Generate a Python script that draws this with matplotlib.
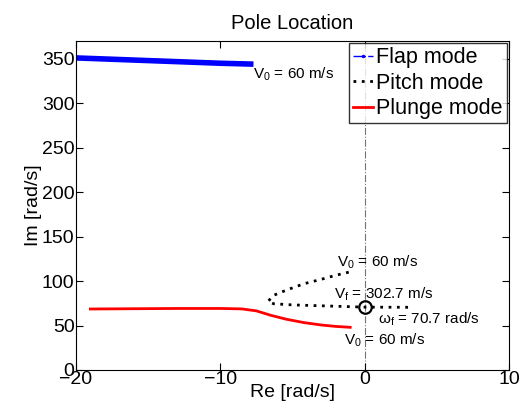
import matplotlib
matplotlib.use('Agg')
import matplotlib.pyplot as plt
from matplotlib.lines import Line2D

plt.rcParams['font.family'] = ['Liberation Sans', 'DejaVu Sans']
plt.rcParams['mathtext.fontset'] = 'custom'
plt.rcParams['mathtext.rm'] = 'Liberation Sans'
plt.rcParams['mathtext.it'] = 'Liberation Sans'

# Flap mode root locus
flap_re = [-20.0, -18.0, -16.0, -14.0, -12.0, -10.0, -7.7]
flap_im = [351.0, 349.8, 348.6, 347.4, 346.2, 345.0, 344.0]

# Pitch mode root locus
pitch_re = [-1.1, -2.0, -3.0, -4.2, -5.4, -6.3, -6.7, -6.3, -5.0, -3.0, -1.0, 0.0, 1.5, 3.1]
pitch_im = [110.0, 106.5, 102.0, 97.0, 90.0, 84.0, 77.0, 74.5, 73.2, 72.2, 71.2, 70.7, 70.6, 70.5]

# Plunge mode root locus
plunge_re = [-19.0, -16.0, -13.0, -10.0, -8.5, -7.5, -6.5, -5.4, -4.2, -3.0, -2.0, -1.0]
plunge_im = [68.6, 68.9, 69.2, 69.2, 68.7, 66.5, 61.5, 57.0, 53.3, 50.6, 49.0, 48.0]

# Flutter point
flutter_re = 0.0
flutter_im = 70.7

fig = plt.figure(figsize=(5.31, 4.16), dpi=100)
ax = fig.add_axes([0.143, 0.1106, 0.8155, 0.7908])

ax.axvline(0, color='0.45', linestyle='-.', linewidth=0.8, zorder=1)
ax.plot(flap_re, flap_im, color='blue', linewidth=4, solid_capstyle='butt')
ax.plot(pitch_re, pitch_im, color='black', linestyle=(0, (1, 2)), linewidth=2)
ax.plot(plunge_re, plunge_im, color='red', linewidth=2)
ax.plot([flutter_re], [flutter_im], 'o', markerfacecolor='none',
        markeredgecolor='black', markersize=9, markeredgewidth=1.6)

fs = 11
ax.text(-7.7, 342, r'$\mathregular{V_0}$ = 60 m/s', fontsize=fs, ha='left', va='top')
ax.text(-1.9, 111, r'$\mathregular{V_0}$ = 60 m/s', fontsize=fs, ha='left', va='bottom')
ax.text(-2.1, 75, r'$\mathregular{V_f}$ = 302.7 m/s', fontsize=fs, ha='left', va='bottom')
ax.text(0.9, 67, r'$\mathregular{\omega_f}$ = 70.7 rad/s', fontsize=fs, ha='left', va='top')
ax.text(-1.45, 43, r'$\mathregular{V_0}$ = 60 m/s', fontsize=fs, ha='left', va='top')

ax.set_xlim(-20, 10)
ax.set_ylim(0, 370)
ax.set_xticks([-20, -10, 0, 10])
ax.set_yticks(range(0, 351, 50))
ax.tick_params(direction='in', top=True, right=True, labelsize=14, length=5, pad=1)
ax.set_xlabel('Re [rad/s]', fontsize=14, labelpad=-3)
ax.set_ylabel('Im [rad/s]', fontsize=14, labelpad=0)
ax.set_title('Pole Location', fontsize=14.5, pad=9)

handles = [
    Line2D([], [], color='blue', linestyle='-.', marker='.', markersize=3, linewidth=1),
    Line2D([], [], color='black', linestyle=(0, (1, 2)), linewidth=2),
    Line2D([], [], color='red', linewidth=2),
]
leg = ax.legend(handles, ['Flap mode', 'Pitch mode', 'Plunge mode'], loc='upper right',
                fontsize=15.5, frameon=True, fancybox=False, borderaxespad=0.1,
                handlelength=0.9, handletextpad=0.15, labelspacing=0.2, borderpad=0.2)
leg.get_frame().set_edgecolor('black')
leg.get_frame().set_linewidth(1)

fig.savefig('out.png', dpi=100)
